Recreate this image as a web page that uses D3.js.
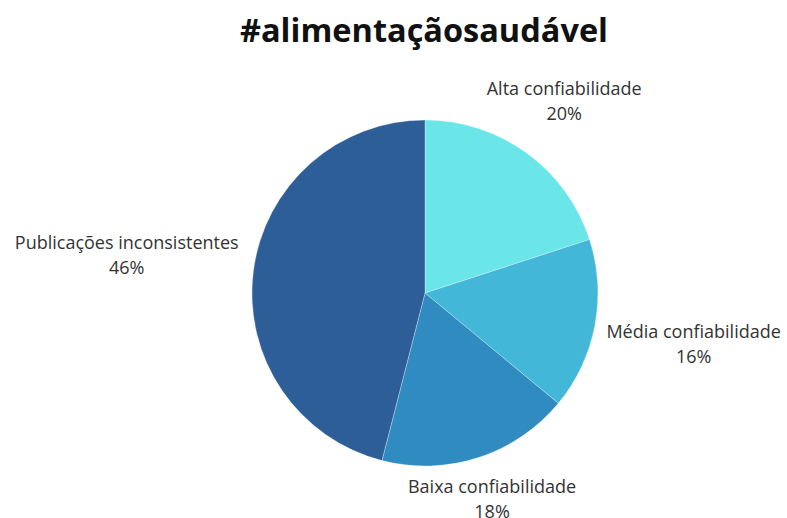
<!DOCTYPE html>
<html>
<head>
<meta charset="utf-8">
<script src="https://cdn.jsdelivr.net/npm/d3@7"></script>
<style>
  body { margin: 0; background: #fff; }
  text { font-family: "Open Sans", sans-serif; }
</style>
</head>
<body>
<div id="chart"></div>
<script>
    const categories = ["Alta confiabilidade", "Média confiabilidade", "Baixa confiabilidade", "Publicações inconsistentes"];
    const values = [20, 16, 18, 46];
    const colors = ["#6ae5e8", "#42b7d8", "#2f8bc0", "#2e5e98"];

    const width = 787, height = 518;
    const cx = 425, cy = 293, radius = 173;

    const svg = d3.select("#chart").append("svg")
        .attr("width", width)
        .attr("height", height);

    // title
    svg.append("text")
        .attr("x", 424)
        .attr("y", 42)
        .attr("text-anchor", "middle")
        .style("font-size", "32.5px")
        .style("font-weight", "bold")
        .style("fill", "#111")
        .text("#alimentaçãosaudável");

    const data = categories.map((c, i) => ({ name: c, value: values[i], color: colors[i] }));

    const pie = d3.pie().value(d => d.value).sort(null);
    const arc = d3.arc().innerRadius(0).outerRadius(radius);

    const g = svg.append("g").attr("transform", `translate(${cx},${cy})`);

    const arcs = pie(data);

    g.selectAll("path")
        .data(arcs)
        .enter()
        .append("path")
        .attr("d", arc)
        .attr("fill", d => d.data.color)
        .attr("stroke", "#fff")
        .attr("stroke-width", 0.5)
        .attr("stroke-opacity", 0.6);

    // labels: two lines, pushed outward so the text box sits just off the pie
    const lineGap = 25;
    const labelR = radius + 4;
    arcs.forEach(d => {
        const mid = (d.startAngle + d.endAngle) / 2;
        const s = Math.sin(mid), c = Math.cos(mid);
        const lbl = g.append("text")
            .attr("text-anchor", "middle")
            .style("font-size", "18px")
            .style("fill", "#333");
        lbl.append("tspan").attr("x", 0).attr("dy", 0).text(d.data.name);
        lbl.append("tspan").attr("x", 0).attr("dy", lineGap).text(d.data.value + "%");
        const hw = lbl.node().getBBox().width / 2;
        const hh = 12;
        const R = labelR + hw * 1.1 * Math.abs(s) + hh * Math.abs(c);
        const x = R * s, y = -R * c;
        lbl.attr("transform", `translate(${x},${y - lineGap / 2 + 6})`);
    });
</script>
</body>
</html>
